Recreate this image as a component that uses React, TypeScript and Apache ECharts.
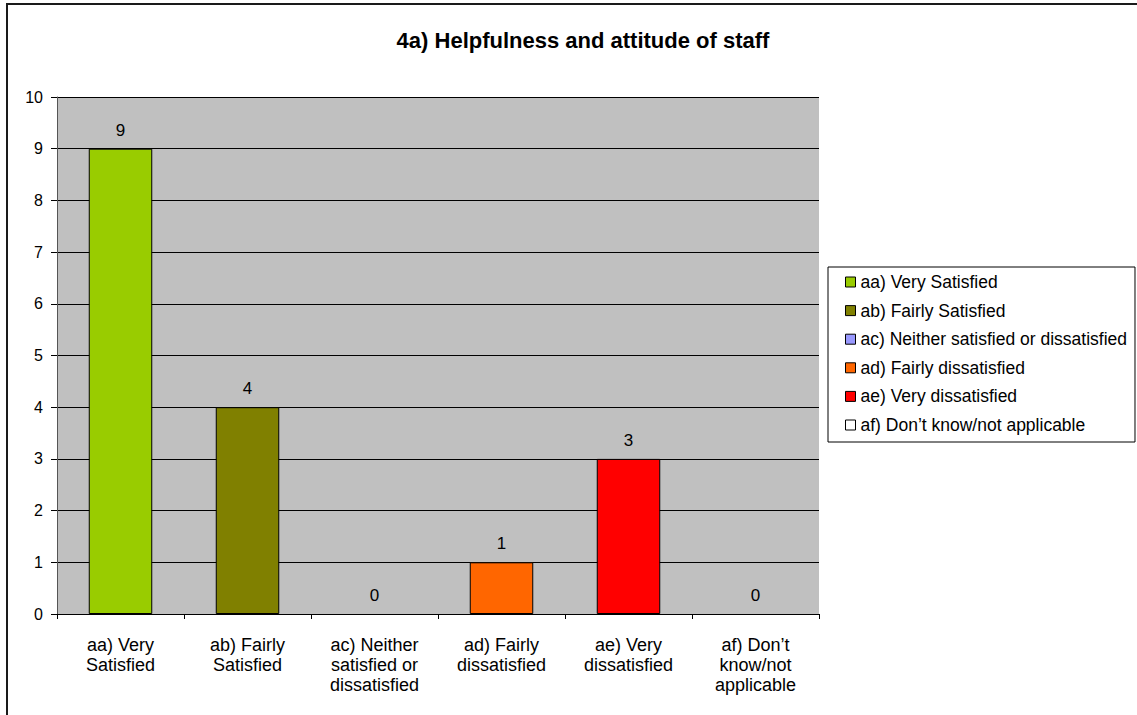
import React, { useEffect, useRef } from "react";
import * as echarts from "echarts";

const categories = [
  "aa) Very Satisfied",
  "ab) Fairly Satisfied",
  "ac) Neither satisfied or dissatisfied",
  "ad) Fairly dissatisfied",
  "ae) Very dissatisfied",
  "af) Don\u2019t know/not applicable",
];

const axisLabels = [
  "aa) Very\nSatisfied",
  "ab) Fairly\nSatisfied",
  "ac) Neither\nsatisfied or\ndissatisfied",
  "ad) Fairly\ndissatisfied",
  "ae) Very\ndissatisfied",
  "af) Don\u2019t\nknow/not\napplicable",
];

const counts = [9, 4, 0, 1, 3, 0];

const colors = ["#99CC00", "#808000", "#9999FF", "#FF6600", "#FF0000", "#FFFFFF"];

const yTicks = [0, 1, 2, 3, 4, 5, 6, 7, 8, 9, 10];

const FONT = "'Liberation Sans', Arial, sans-serif";

export default function App() {
  const ref = useRef<HTMLDivElement>(null);

  useEffect(() => {
    if (!ref.current) return;
    const chart = echarts.init(ref.current, null, { renderer: "svg" });

    // one series per answer, stacked into the same slot so each sits centred in its category
    const series = categories.map((name, i) => ({
      name,
      type: "bar",
      stack: "answers",
      barCategoryGap: "50%",
      data: counts.map((v, j) =>
        j === i ? (v === 0 ? { value: v, itemStyle: { borderWidth: 0 } } : v) : "-"
      ),
      itemStyle: { color: colors[i], borderColor: "#000", borderWidth: 1 },
      label: {
        show: true,
        position: "top",
        distance: 10,
        color: "#000",
        fontFamily: FONT,
        fontSize: 17,
      },
    }));

    chart.setOption({
      animation: false,
      backgroundColor: "#fff",
      title: {
        text: "4a) Helpfulness and attitude of staff",
        left: 578,
        top: 24,
        textAlign: "center",
        textStyle: { fontFamily: FONT, fontSize: 22, fontWeight: "bold", color: "#000" },
      },
      graphic: [
        {
          type: "rect",
          shape: { x: 7, y: 4, width: 1300, height: 900 },
          style: { fill: "none", stroke: "#1a1a1a", lineWidth: 2 },
          silent: true,
          z: 100,
        },
      ],
      legend: {
        orient: "vertical",
        left: 828,
        top: 267,
        padding: [6, 8, 8, 17],
        itemWidth: 10,
        itemHeight: 10,
        itemGap: 10.6,
        icon: "rect",
        backgroundColor: "#fff",
        borderColor: "#000",
        borderWidth: 1,
        itemStyle: { borderColor: "#000", borderWidth: 1 },
        textStyle: { fontFamily: FONT, fontSize: 17.5, color: "#000" },
        data: categories,
      },
      grid: {
        left: 57,
        top: 97,
        width: 762,
        height: 517,
        show: true,
        backgroundColor: "#C0C0C0",
        borderWidth: 0,
      },
      xAxis: {
        type: "category",
        data: axisLabels,
        boundaryGap: true,
        axisLine: { show: true, lineStyle: { color: "#000", width: 1 } },
        axisTick: { show: true, length: 5, lineStyle: { color: "#000" } },
        axisLabel: {
          interval: 0,
          margin: 21,
          color: "#000",
          fontFamily: FONT,
          fontSize: 18,
          lineHeight: 20,
        },
      },
      yAxis: {
        type: "value",
        min: yTicks[0],
        max: yTicks[yTicks.length - 1],
        interval: 1,
        axisLine: { show: true, lineStyle: { color: "#555", width: 1 } },
        axisTick: { show: true, length: 6, lineStyle: { color: "#000" } },
        axisLabel: { color: "#000", fontFamily: FONT, fontSize: 16, margin: 14 },
        splitLine: { show: true, lineStyle: { color: "#000", width: 1 } },
      },
      series,
    });

    return () => chart.dispose();
  }, []);

  return (
    <div
      ref={ref}
      style={{ position: "fixed", left: 0, top: 0, width: 1137, height: 715 }}
    />
  );
}
